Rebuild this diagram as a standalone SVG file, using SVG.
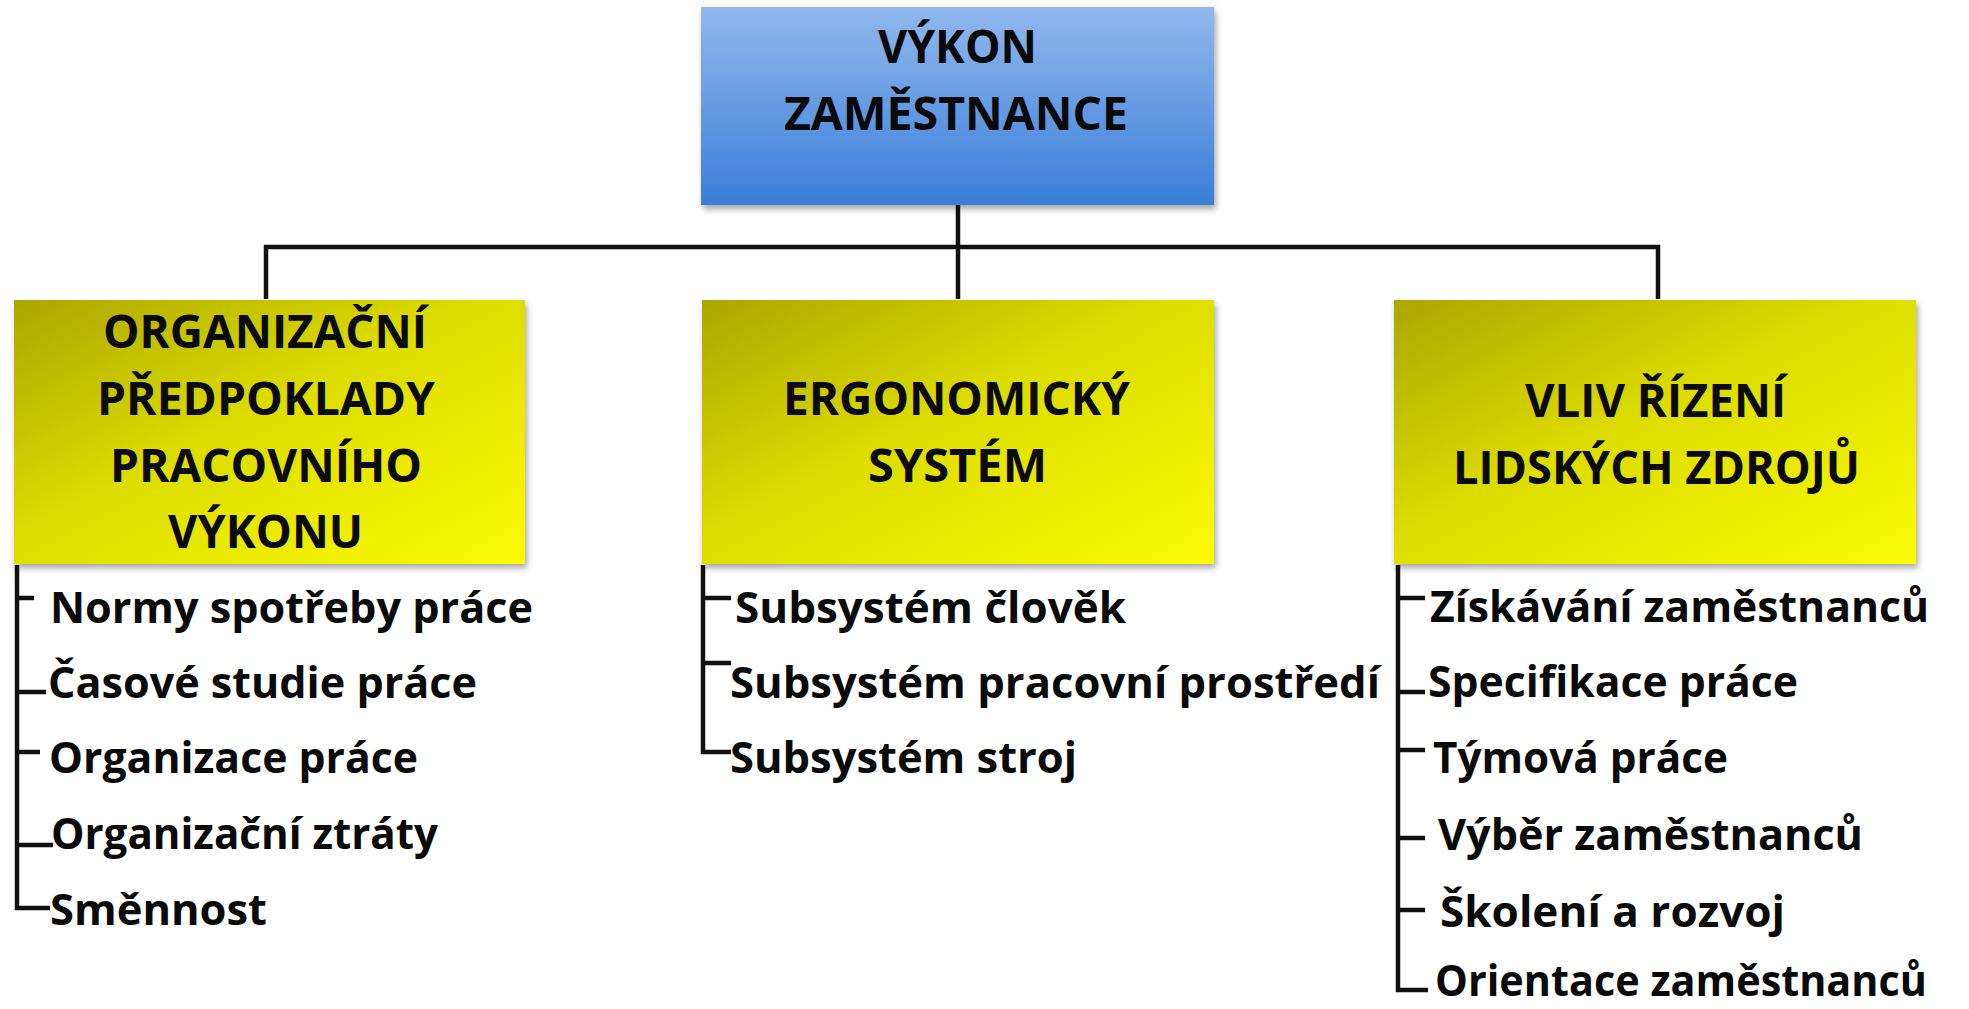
<svg xmlns="http://www.w3.org/2000/svg" width="1969" height="1009" viewBox="0 0 1969 1009">
<defs>
<linearGradient id="blue" x1="0" y1="0" x2="0" y2="1">
<stop offset="0" stop-color="#92b8ee"/>
<stop offset="1" stop-color="#3a7ed8"/>
</linearGradient>
<linearGradient id="yellow" x1="0" y1="0" x2="1" y2="1">
<stop offset="0" stop-color="#aca600"/>
<stop offset="0.45" stop-color="#dcdc00"/>
<stop offset="1" stop-color="#fbfb00"/>
</linearGradient>
<filter id="sh" x="-5%" y="-5%" width="112%" height="115%">
<feDropShadow dx="2" dy="4" stdDeviation="3" flood-color="#000" flood-opacity="0.35"/>
</filter>
</defs>
<style>
.h{font-family:"Open Sans","Liberation Sans",sans-serif;font-weight:700;font-size:47px;fill:#0a0a0a}
.t{font-family:"Open Sans","Liberation Sans",sans-serif;font-weight:700;font-size:43px;fill:#0a0a0a}
.ln{fill:none;stroke:#111;stroke-width:4.5}
.bx{stroke:none}
</style>
<rect width="1969" height="1009" fill="#fff"/>
<g id="connectors">
<path class="ln" d="M958 205 V299 M266 299 V247 H1658 V299"/>
<path class="ln" d="M17 565 V908 H50 M17 598 H34 M17 692 H46 M17 752 H40 M17 845 H53"/>
<path class="ln" d="M703 565 V752 H731 M703 598 H731 M703 663 H731"/>
<path class="ln" d="M1398 565 V990 H1428 M1398 598 H1425 M1398 692 H1425 M1398 750 H1425 M1398 838 H1425 M1398 910 H1425"/>
</g>
<g id="root">
<rect class="bx" x="701" y="7" width="513" height="198" fill="url(#blue)" filter="url(#sh)"/>
<text class="h" x="878" y="63" textLength="159" lengthAdjust="spacingAndGlyphs">VÝKON</text>
<text class="h" x="784" y="130" textLength="344" lengthAdjust="spacingAndGlyphs">ZAMĚSTNANCE</text>
</g>
<g id="org">
<rect class="bx" x="14" y="300" width="511" height="264" fill="url(#yellow)" filter="url(#sh)"/>
<text class="h" x="103" y="348" textLength="324" lengthAdjust="spacingAndGlyphs">ORGANIZAČNÍ</text>
<text class="h" x="97" y="415" textLength="338" lengthAdjust="spacingAndGlyphs">PŘEDPOKLADY</text>
<text class="h" x="110" y="482" textLength="312" lengthAdjust="spacingAndGlyphs">PRACOVNÍHO</text>
<text class="h" x="168" y="548" textLength="195" lengthAdjust="spacingAndGlyphs">VÝKONU</text>
</g>
<g id="org-items">
<text class="t" x="50" y="623" textLength="483" lengthAdjust="spacingAndGlyphs">Normy spotřeby práce</text>
<text class="t" x="48" y="698" textLength="429" lengthAdjust="spacingAndGlyphs">Časové studie práce</text>
<text class="t" x="49" y="773" textLength="369" lengthAdjust="spacingAndGlyphs">Organizace práce</text>
<text class="t" x="51" y="849" textLength="387" lengthAdjust="spacingAndGlyphs">Organizační ztráty</text>
<text class="t" x="50" y="925" textLength="217" lengthAdjust="spacingAndGlyphs">Směnnost</text>
</g>
<g id="ergo">
<rect class="bx" x="702" y="300" width="512" height="264" fill="url(#yellow)" filter="url(#sh)"/>
<text class="h" x="783" y="415" textLength="347" lengthAdjust="spacingAndGlyphs">ERGONOMICKÝ</text>
<text class="h" x="868" y="482" textLength="179" lengthAdjust="spacingAndGlyphs">SYSTÉM</text>
</g>
<g id="ergo-items">
<text class="t" x="735" y="623" textLength="391" lengthAdjust="spacingAndGlyphs">Subsystém člověk</text>
<text class="t" x="730" y="698" textLength="650" lengthAdjust="spacingAndGlyphs">Subsystém pracovní prostředí</text>
<text class="t" x="730" y="773" textLength="347" lengthAdjust="spacingAndGlyphs">Subsystém stroj</text>
</g>
<g id="hr">
<rect class="bx" x="1394" y="300" width="522" height="264" fill="url(#yellow)" filter="url(#sh)"/>
<text class="h" x="1525" y="417" textLength="261" lengthAdjust="spacingAndGlyphs">VLIV ŘÍZENÍ</text>
<text class="h" x="1453" y="484" textLength="407" lengthAdjust="spacingAndGlyphs">LIDSKÝCH ZDROJŮ</text>
</g>
<g id="hr-items">
<text class="t" x="1430" y="622" textLength="499" lengthAdjust="spacingAndGlyphs">Získávání zaměstnanců</text>
<text class="t" x="1428" y="697" textLength="370" lengthAdjust="spacingAndGlyphs">Specifikace práce</text>
<text class="t" x="1433" y="773" textLength="295" lengthAdjust="spacingAndGlyphs">Týmová práce</text>
<text class="t" x="1438" y="850" textLength="425" lengthAdjust="spacingAndGlyphs">Výběr zaměstnanců</text>
<text class="t" x="1440" y="927" textLength="345" lengthAdjust="spacingAndGlyphs">Školení a rozvoj</text>
<text class="t" x="1435" y="996" textLength="492" lengthAdjust="spacingAndGlyphs">Orientace zaměstnanců</text>
</g>
</svg>
